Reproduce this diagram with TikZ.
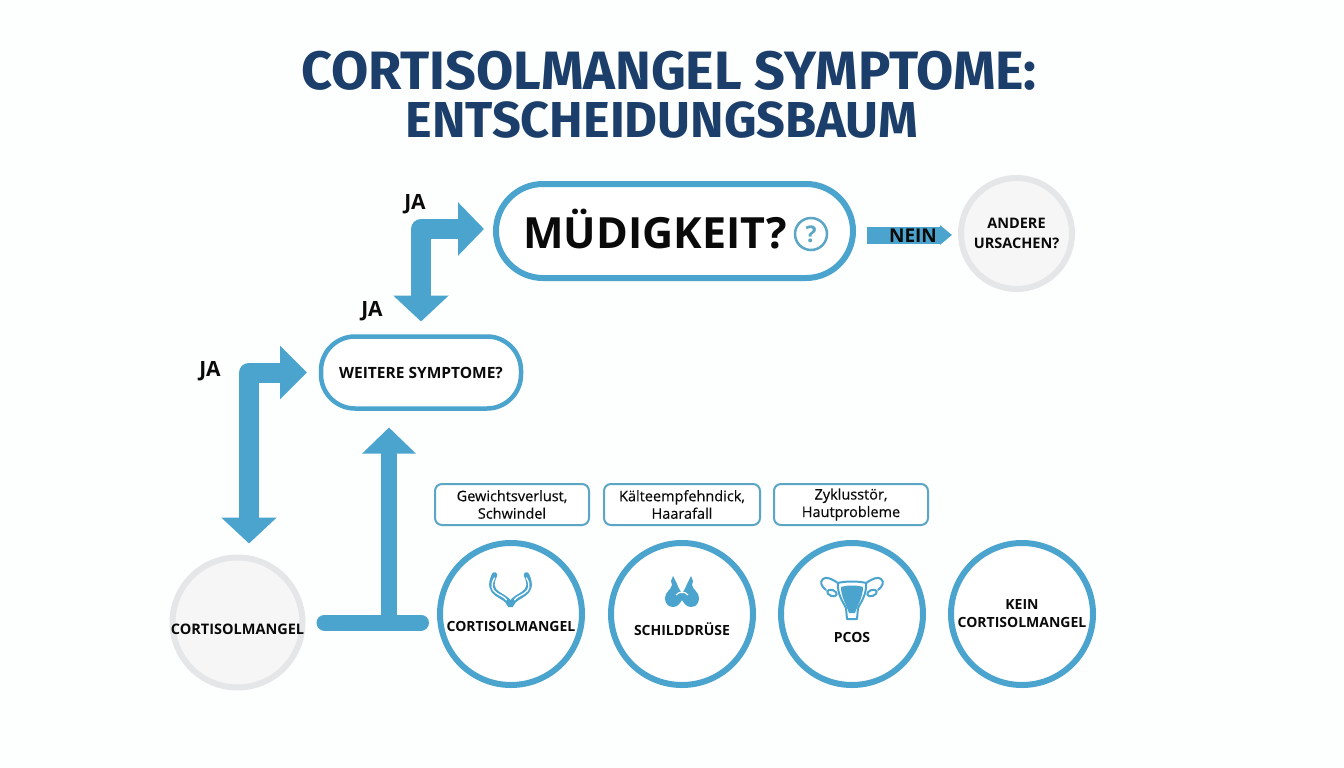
\documentclass[tikz,border=0pt]{standalone}
\usepackage{fontspec}
\setmainfont{Open Sans}
\newfontfamily\titlefont{Fira Sans}
\newfontfamily\medfont[FakeBold=0.35]{Open Sans}
\usetikzlibrary{arrows.meta}
\definecolor{azure}{HTML}{4AA4CE}
\definecolor{navy}{HTML}{1B3F6A}
\definecolor{boxline}{HTML}{5BA6C4}
\definecolor{ink}{HTML}{0A0A0A}
\definecolor{greyline}{HTML}{E5E6E7}
\definecolor{greyfill}{HTML}{F6F6F7}
\definecolor{paper}{HTML}{FDFEFE}
\tikzset{
  txt/.style={text=ink,font=\bfseries\fontsize{#1}{#1}\selectfont,inner sep=0pt,outer sep=0pt,align=center},
  pill/.style={draw=azure,fill=white,rounded corners=#1,inner sep=0pt},
  ring/.style={circle,draw=azure,line width=6pt,fill=white,minimum size=142pt,inner sep=0pt},
  greyring/.style={circle,draw=greyline,line width=6pt,fill=greyfill,inner sep=0pt},
  hintbox/.style={draw=boxline,line width=2pt,fill=white,rounded corners=7pt,minimum height=41pt,inner sep=0pt,
     text=ink,font=\medfont\fontsize{14.5}{17.5}\selectfont,align=center},
  bigarrow/.style={draw=azure,line width=20pt,line join=round,
     {Triangle[length=26pt,width=54pt]}-{Triangle[length=26pt,width=52pt]}},
  oneway/.style={draw=azure,line width=#1,-{Triangle[length=26pt,width=52pt]}},
  iconline/.style={draw=azure,line width=2pt,line cap=round,line join=round},
}
\begin{document}
\begin{tikzpicture}[x=1pt,y=-1pt]
\fill[paper] (0,0) rectangle (1344,768);
\useasboundingbox (0,0) rectangle (1344,768);

% title
\node[inner sep=0pt,text=navy,font=\titlefont\bfseries\fontsize{54}{54}\selectfont] (t1) at (669,71) {CORTISOLMANGEL SYMPTOME:};
\node[inner sep=0pt,text=navy,font=\titlefont\bfseries\fontsize{50.5}{50.5}\selectfont] (t2) at (662,120) {ENTSCHEIDUNGSBAUM};

% decision nodes
\node[pill=47pt,line width=6pt,minimum width=357pt,minimum height=94pt] (mued) at (674.5,231) {};
\node[txt=43,anchor=center] (muedt) at (655,229.5) {MÜDIGKEIT?};
\node[circle,draw=boxline,line width=2.5pt,minimum size=32pt,inner sep=0pt,text=boxline,font=\bfseries\fontsize{23}{23}\selectfont] (qm) at (811,234) {?};
\node[pill=34pt,line width=4.5pt,minimum width=200pt,minimum height=72pt,txt=15.5] (weit) at (421,372.5) {WEITERE SYMPTOME?};
\node[greyring,minimum size=111pt,txt=14.5] (ande) at (1016.5,233.5) {ANDERE\\[6pt]URSACHEN?};
\node[greyring,minimum size=130pt,txt=14.5] (cort) at (237.5,622.5) {};
\node[txt=14.5] (cortt) at (237.5,629) {CORTISOLMANGEL};

% outcome circles
\node[ring] (c1) at (511,614) {};
\node[ring] (c2) at (682,614) {};
\node[ring] (c3) at (852,614) {};
\node[ring] (c4) at (1022,614) {};
\node[txt=14] (c1t) at (511,626) {CORTISOLMANGEL};
\node[txt=14] (c2t) at (682,629) {SCHILDDRÜSE};
\node[txt=14] (c3t) at (852,637.5) {PCOS};
\node[txt=14] (c4t) at (1022,613.5) {KEIN\\[4pt]CORTISOLMANGEL};

% symptom boxes
\node[hintbox,minimum width=154pt] (b1) at (512,504.5) {Gewichtsverlust,\\Schwindel};
\node[hintbox,minimum width=156pt] (b2) at (682,504.5) {Kälteempfehndick,\\Haarafall};
\node[hintbox,minimum width=154pt] (b3) at (851,504.5) {Zyklusstör,\\Hautprobleme};

% connectors
\draw[bigarrow,shorten <=15pt,shorten >=9pt] (weit.north) |- ([yshift=2pt]mued.west);
\draw[bigarrow,{Triangle[length=26pt,width=54pt]}-{Triangle[length=27pt,width=52pt]},shorten <=14pt,shorten >=14pt]
  ([xshift=11.5pt]cort.north) |- (weit.west);
\draw[draw=azure,line width=16pt,line cap=round,shorten <=22pt,shorten >=16pt] (cort.east) -- (cort.east -| c1.west);
\coordinate (bj) at (389,622);
\draw[oneway=16pt,shorten >=19pt] (bj) -- (bj |- weit.south);
\coordinate (nj) at (1000,235);
\draw[draw=azure,line width=17pt,-{Triangle[length=12pt,width=19pt]},shorten <=11pt,shorten >=9pt]
  (mued.east |- nj) -- (ande.west |- nj);
\node[txt=19] (nein) at (913,235.5) {NEIN};

% branch labels
\node[txt=21] (ja1) at (415,204) {JA};
\node[txt=21] (ja2) at (372,311) {JA};
\node[txt=21] (ja3) at (210,371) {JA};

% icon: adrenal
\foreach \s in {1,-1}{
\begin{scope}[shift={(510.5,0)},xscale=\s]
\draw[draw=azure,line width=5.5pt,line cap=round] (-1,604) .. controls (-4,594) and (-26,596) .. (-16,575);
\draw[draw=white,line width=1.3pt,line cap=round] (-4,600) .. controls (-7,594) and (-25,594) .. (-16,578);
\end{scope}
}
\fill[azure] (507,600) -- (514,600) -- (513,607) -- (508,607) -- cycle;

% icon: thyroid
\foreach \s in {1,-1}{
\begin{scope}[shift={(682,0)},xscale=\s]
\fill[azure] (-9,576) -- (-5,584) .. controls (-3,590) and (0,592) .. (0,595) -- (0,600)
  .. controls (-2,603) and (-4,607) .. (-9,607) .. controls (-15,607) and (-17,602) .. (-17,598)
  .. controls (-17,592) and (-11,590) .. (-10,585) -- (-11,581) -- cycle;
\end{scope}
}
\draw[draw=white,line width=1.2pt] (676,595) .. controls (680,591) and (684,591) .. (688,595);

% icon: uterus
\foreach \s in {1,-1}{
\begin{scope}[shift={(852,0)},xscale=\s]
\draw[iconline] (-14,583) .. controls (-20,579) and (-26,576) .. (-29,579) .. controls (-33,582) and (-30,587) .. (-26,590);
\draw[iconline,fill=white,rotate around={-20:(-20,593)}] (-20,593) ellipse (5pt and 3pt);
\draw[iconline] (-14,583) .. controls (-15,594) and (-9,602) .. (-6,608) -- (-5,619) -- (0,619);
\end{scope}
}
\draw[iconline] (838,583) .. controls (845,581) and (859,581) .. (866,583);
\fill[azure] (841,587) .. controls (847,585) and (857,585) .. (863,587)
  .. controls (863,597) and (858,604) .. (855,613) -- (849,613) .. controls (846,604) and (841,597) .. (841,587) -- cycle;
\end{tikzpicture}
\end{document}
